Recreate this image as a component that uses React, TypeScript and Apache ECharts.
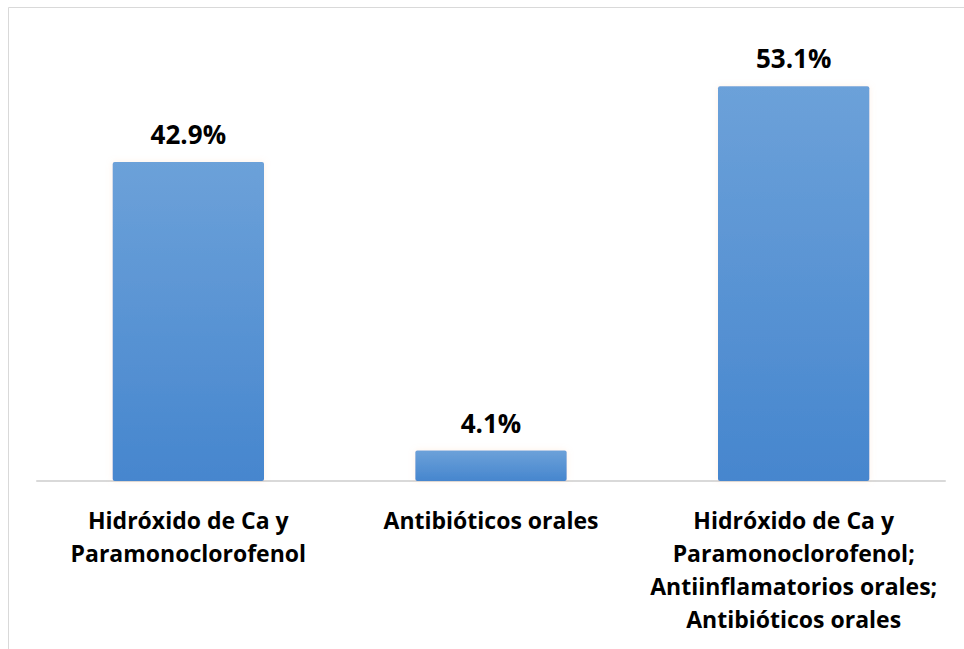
import React, { useEffect, useRef } from "react";
import * as echarts from "echarts";

const categories = [
  "Hidróxido de Ca y\nParamonoclorofenol",
  "Antibióticos orales",
  "Hidróxido de Ca y\nParamonoclorofenol;\nAntiinflamatorios orales;\nAntibióticos orales",
];
const values = [42.9, 4.1, 53.1];

export default function App() {
  const ref = useRef<HTMLDivElement>(null);
  useEffect(() => {
    document.body.style.margin = "0";
    const chart = echarts.init(ref.current!, null, { renderer: "svg" });
    chart.setOption({
      animation: false,
      backgroundColor: "#ffffff",
      graphic: [
        {
          type: "line",
          shape: { x1: 8.5, y1: 7.5, x2: 8.5, y2: 649 },
          style: { stroke: "#d9d9d9", lineWidth: 1 },
        },
        {
          type: "line",
          shape: { x1: 8.5, y1: 7.5, x2: 964, y2: 7.5 },
          style: { stroke: "#d9d9d9", lineWidth: 1 },
        },
      ],
      grid: { left: 37, right: 19, top: 35, bottom: 168 },
      xAxis: {
        type: "category",
        data: categories,
        axisLine: { show: true, lineStyle: { color: "#d9d9d9", width: 2 } },
        axisTick: { show: false },
        axisLabel: {
          interval: 0,
          margin: 22,
          color: "#000000",
          fontFamily: "Open Sans",
          fontWeight: "bold",
          fontSize: 23,
          lineHeight: 33,
        },
      },
      yAxis: {
        type: "value",
        min: 0,
        max: 60,
        show: false,
        splitLine: { show: false },
      },
      series: [
        {
          type: "bar",
          data: values,
          barWidth: "50%",
          itemStyle: {
            borderRadius: 2,
            color: new echarts.graphic.LinearGradient(0, 0, 0, 1, [
              { offset: 0, color: "#6ca1d9" },
              { offset: 1, color: "#4686ce" },
            ]),
            shadowColor: "rgba(255,200,150,0.25)",
            shadowBlur: 6,
          },
          label: {
            show: true,
            position: "top",
            distance: 14,
            formatter: "{c}%",
            color: "#000000",
            fontFamily: "Open Sans",
            fontWeight: "bold",
            fontSize: 26,
            lineHeight: 28,
          },
        },
      ],
    });
    return () => chart.dispose();
  }, []);
  return <div ref={ref} style={{ width: 964, height: 649 }} />;
}
